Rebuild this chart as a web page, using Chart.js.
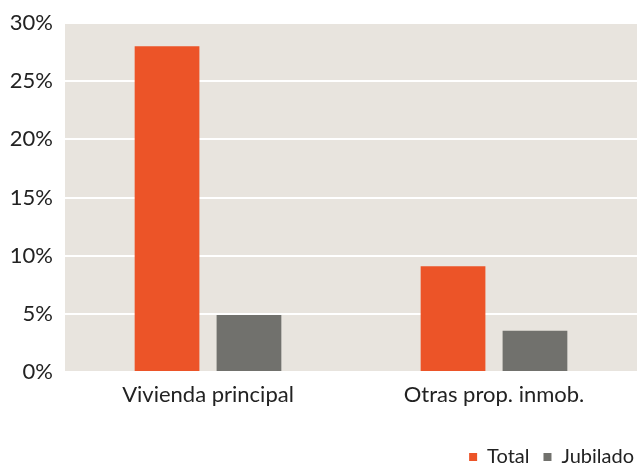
<!DOCTYPE html>
<html>
<head>
<meta charset="utf-8">
<script src="https://cdn.jsdelivr.net/npm/chart.js@4"></script>
<style>
  html, body { margin: 0; padding: 0; background: #fff; }
  #wrap { width: 637px; height: 468px; }
</style>
</head>
<body>
<div id="wrap"><canvas id="chart"></canvas></div>
<script>
// Datos
const categorias = ['Vivienda principal', 'Otras prop. inmob.'];
const total = [28.0, 9.1];
const jubilado = [4.9, 3.55];
const ticksY = [0, 5, 10, 15, 20, 25, 30];

// Fondo del área del gráfico
const fondo = {
  id: 'fondo',
  beforeDraw(chart) {
    const { ctx, chartArea: a } = chart;
    ctx.save();
    ctx.fillStyle = '#e8e4de';
    ctx.fillRect(a.left, a.top, a.right - a.left, a.bottom - a.top);
    ctx.restore();
  },
};

// Leyenda pegada al borde derecho
const leyendaDerecha = {
  id: 'leyendaDerecha',
  afterLayout(chart) {
    chart.legend.left += 11;
    chart.legend.right += 11;
  },
};

const fuente = "'Lato', 'Open Sans', sans-serif";

new Chart(document.getElementById('chart'), {
  type: 'bar',
  data: {
    labels: categorias,
    datasets: [
      { label: 'Total', data: total, backgroundColor: '#ec5428' },
      { label: 'Jubilado', data: jubilado, backgroundColor: '#71716d' },
    ],
  },
  options: {
    responsive: true,
    maintainAspectRatio: false,
    animation: false,
    layout: { padding: { top: 23, right: 0, left: 0, bottom: -9 } },
    datasets: { bar: { categoryPercentage: 0.573, barPercentage: 0.79 } },
    plugins: {
      tooltip: { enabled: false },
      legend: {
        position: 'bottom',
        align: 'end',
        labels: {
          boxWidth: 8,
          boxHeight: 8,
          padding: 14,
          color: '#222',
          font: { family: fuente, size: 20 },
        },
      },
    },
    scales: {
      x: {
        grid: { display: false },
        border: { display: false },
        ticks: { color: '#222', font: { family: fuente, size: 22 }, padding: 2 },
        afterFit(s) { s.height = 61; },
      },
      y: {
        min: 0,
        max: 30,
        afterBuildTicks(s) { s.ticks = ticksY.map(v => ({ value: v })); },
        grid: { color: '#ffffff', lineWidth: 2 },
        border: { display: false },
        ticks: {
          color: '#222',
          font: { family: fuente, size: 22 },
          padding: 4,
          callback: v => v + '%',
        },
        afterFit(s) { s.width = 65; },
      },
    },
  },
  plugins: [fondo, leyendaDerecha],
});
</script>
</body>
</html>
